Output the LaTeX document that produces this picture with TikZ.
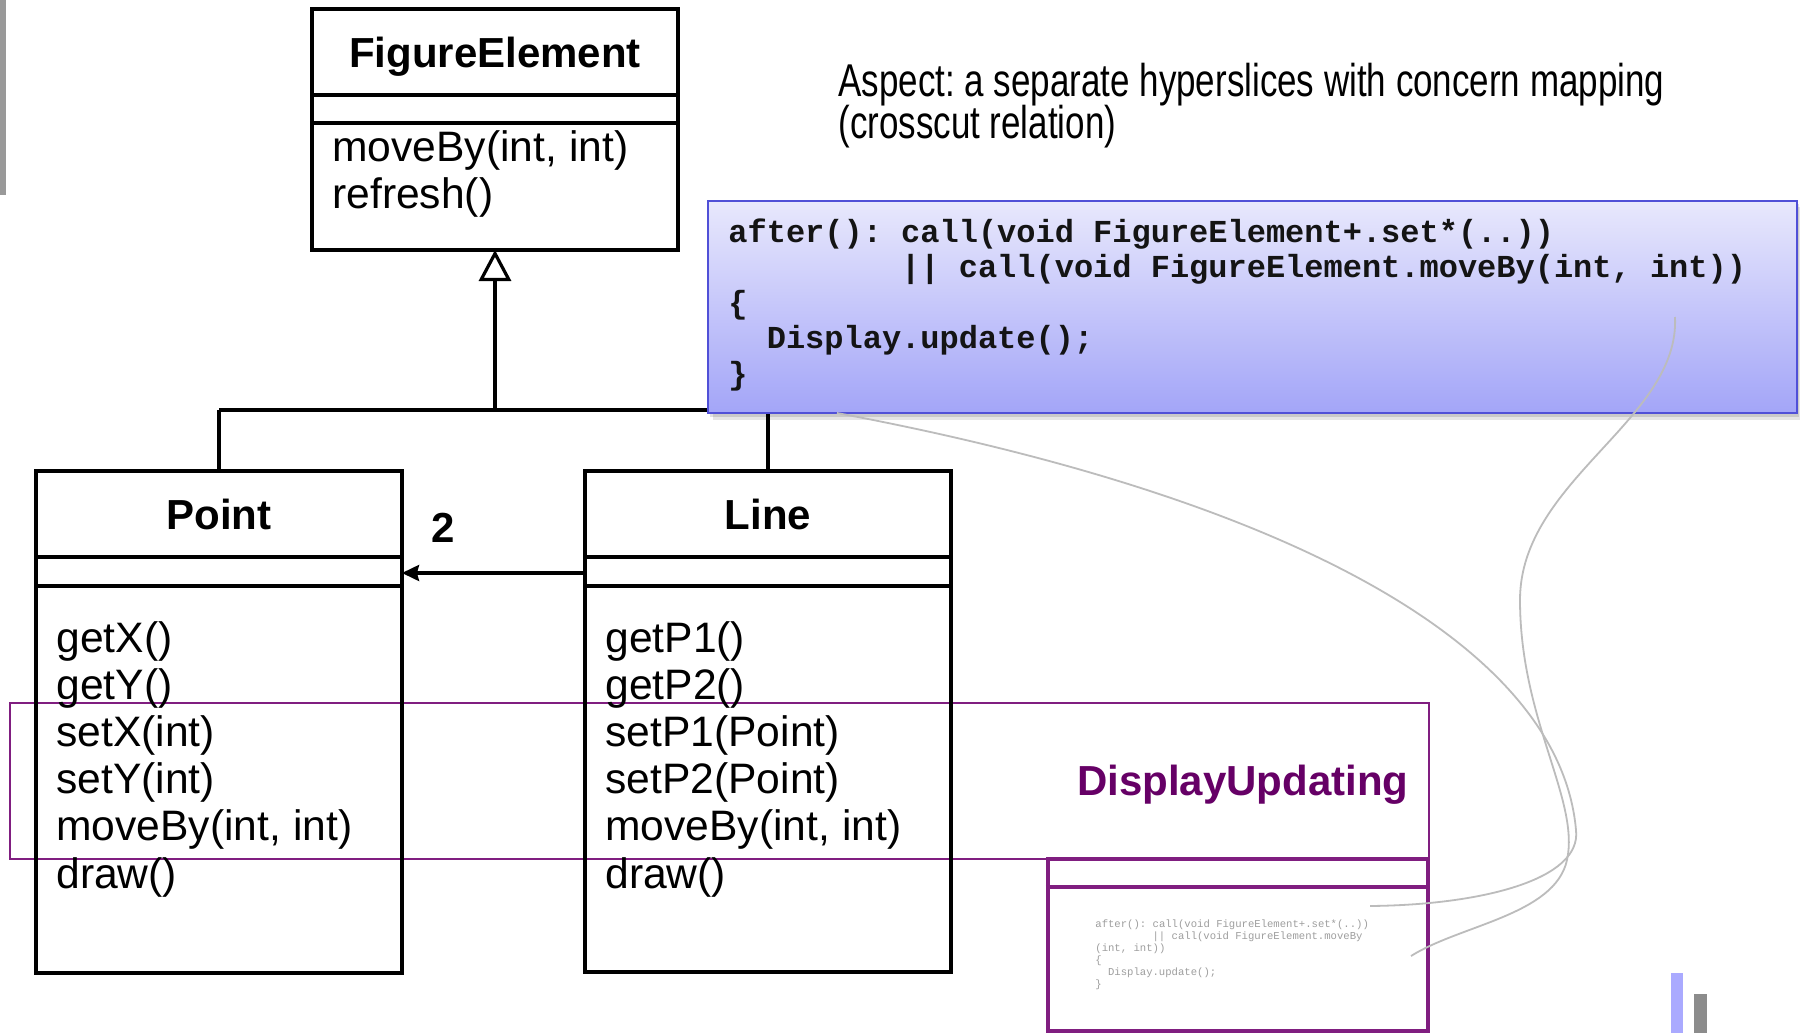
\documentclass[tikz,border=0pt]{standalone}
\usepackage{fontspec}
\setmainfont{Liberation Sans}
\newfontfamily\codefont{Liberation Mono}
\newfontfamily\condfont[FakeStretch=0.76]{Liberation Sans}
\usetikzlibrary{arrows.meta}
\definecolor{bluetop}{RGB}{232,232,252}
\definecolor{bluebot}{RGB}{163,165,248}
\definecolor{blueedge}{RGB}{80,80,215}
\definecolor{purp}{RGB}{128,30,128}
\definecolor{purptext}{RGB}{102,0,102}
\definecolor{curvegray}{RGB}{188,188,188}
\definecolor{barblue}{RGB}{170,170,255}
\frenchspacing
\begin{document}
\begin{tikzpicture}[x=0.5pt,y=-0.5pt,
  umlbox/.style={draw=black, line width=1.8pt, inner sep=0pt, outer sep=0pt},
  umlline/.style={draw=black, line width=1.8pt},
  classname/.style={font=\fontsize{21}{25}\selectfont\bfseries, inner sep=0pt, anchor=base},
  meth/.style={font=\fontsize{21.3}{25}\selectfont, inner sep=0pt, anchor=base west},
  codeline/.style={font=\codefont\bfseries\fontsize{16}{18}\selectfont, inner sep=0pt, anchor=base west, text=black!92},
  tinycode/.style={font=\codefont\fontsize{5.3}{6}\selectfont, inner sep=0pt, anchor=base west, text=black!38},
  titletext/.style={font=\condfont\fontsize{23}{26}\selectfont, inner sep=0pt, anchor=base west},
  curve/.style={draw=curvegray, line width=0.9pt},
]
\useasboundingbox (0,0) rectangle (1800,1033);
\fill[white] (0,0) rectangle (1800,1033);
% left gray bar
\fill[black!40] (0,0) rectangle (6,195);

% thin purple DisplayUpdating box
\node[draw=purp, line width=1.2pt, minimum width=709.5pt, minimum height=78pt, inner sep=0pt] (du) at (719.5,781) {};
\node[font=\fontsize{21}{25}\selectfont\bfseries, text=purptext, inner sep=0pt, anchor=base east] (dulabel) at (1409,795) {DisplayUpdating};

% classes
\node[umlbox, minimum width=183pt, minimum height=120.5pt] (fe) at (495,129.5) {};
\node[umlbox, minimum width=183pt, minimum height=251pt] (point) at (219,722) {};
\node[umlbox, minimum width=183pt, minimum height=250.5pt] (line) at (768,721.5) {};
\draw[umlline] (312,95) -- (678,95);
\draw[umlline] (312,123) -- (678,123);
\draw[umlline] (36,557) -- (402,557);
\draw[umlline] (36,586) -- (402,586);
\draw[umlline] (585,557) -- (951,557);
\draw[umlline] (585,586) -- (951,586);

\node[classname] (fename) at (495,67) {FigureElement};
\node[classname] (pointname) at (219,529) {Point};
\node[classname] (linename) at (768,529) {Line};

\node[meth] (fe1) at (332,161) {moveBy(int, int)};
\node[meth] (fe2) at (332,208) {refresh()};

\node[meth] (p1) at (56,652) {getX()};
\node[meth] (p2) at (56,699.2) {getY()};
\node[meth] (p3) at (56,746.4) {setX(int)};
\node[meth] (p4) at (56,793.6) {setY(int)};
\node[meth] (p5) at (56,840.8) {moveBy(int, int)};
\node[meth] (p6) at (56,888) {draw()};

\node[meth] (l1) at (605,652) {getP1()};
\node[meth] (l2) at (605,699.2) {getP2()};
\node[meth] (l3) at (605,746.4) {setP1(Point)};
\node[meth] (l4) at (605,793.6) {setP2(Point)};
\node[meth] (l5) at (605,840.8) {moveBy(int, int)};
\node[meth] (l6) at (605,888) {draw()};

% inheritance
\coordinate (jn) at (495,410);
\coordinate (jl) at (219,410);
\coordinate (jr) at (768,410);
\draw[umlline, line join=miter] (jl) -- (jr);
\draw[umlline, line join=miter] (jl) -- (point.north);
\draw[umlline, line join=miter] (jr) -- (line.north);
\draw[umlline, line join=miter, -{Triangle[open, length=15.5pt, width=16pt, line width=1.6pt]}] (jn) -- (fe.south);

% association
\coordinate (assocstart) at (line.west |- 0,573);
\coordinate (assocend) at (point.east |- 0,573);
\draw[draw=black, line width=1.6pt, -{Stealth[length=8.5pt, width=8pt, inset=1pt]}] (assocstart) -- (assocend);
\node[font=\fontsize{21}{25}\selectfont\bfseries, inner sep=0pt, anchor=base] (mult) at (443,542) {2};

% title
\node[titletext] (t1) at (838,96) {Aspect: a separate hyperslices with concern mapping};
\node[titletext] (t2) at (838,138) {(crosscut relation)};

% advice code box
\fill[black, opacity=0.10] (713,207) rectangle (1800,420);
\fill[black, opacity=0.12] (710,204) rectangle (1799,417);
\node[draw=blueedge, line width=0.9pt, top color=bluetop, bottom color=bluebot, minimum width=544.5pt, minimum height=106pt, inner sep=0pt] (code) at (1252.5,307) {};
\node[codeline] (c1) at (728,242) {after(): call(void FigureElement+.set*(..))};
\node[codeline] (c2) at (900.8,277.5) {|| call(void FigureElement.moveBy(int, int))};
\node[codeline] (c3) at (728,313) {\{};
\node[codeline] (c4) at (766.4,348.5) {Display.update();};
\node[codeline] (c5) at (728,384) {\}};

% aspect class box
\node[draw=purp, fill=white, line width=2.2pt, minimum width=190pt, minimum height=86pt, inner sep=0pt] (asp) at (1238,945) {};
\draw[purp, line width=2.2pt] (asp.west |- 0,887) -- (asp.east |- 0,887);
\node[tinycode] (s1) at (1095,927) {after(): call(void FigureElement+.set*(..))};
\node[tinycode] (s2) at (1152.2,939) {|| call(void FigureElement.moveBy};
\node[tinycode] (s3) at (1095,951) {(int, int))};
\node[tinycode] (s4) at (1095,963) {\{};
\node[tinycode] (s5) at (1107.7,975) {Display.update();};
\node[tinycode] (s6) at (1095,987) {\}};

% mapping curves
\coordinate (ca) at (837,413);
\coordinate (cae) at (1370,906);
\coordinate (cb) at (1675,317);
\coordinate (cbe) at (1411,956);
\draw[curve] (ca) .. controls (1300,500) and (1560,650) .. (1576,830)
  .. controls (1582,880) and (1480,905) .. (cae);
\draw[curve] (cb) .. controls (1680,420) and (1520,480) .. (1520,600)
  .. controls (1520,720) and (1580,800) .. (1567,860)
  .. controls (1555,915) and (1460,925) .. (cbe);

% corner bars
\fill[barblue] (1671,973) rectangle (1683,1033);
\fill[black!45] (1694,994) rectangle (1707,1033);
\end{tikzpicture}
\end{document}
